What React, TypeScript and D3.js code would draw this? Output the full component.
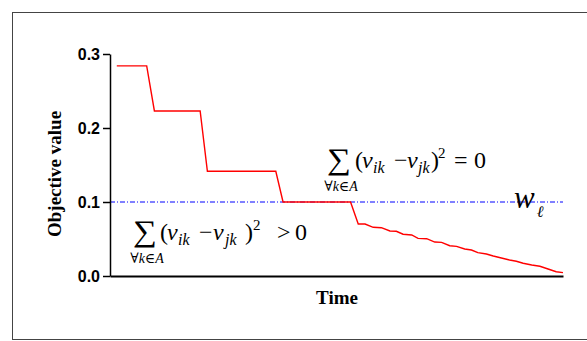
import { useEffect, useRef } from 'react';
import * as d3 from 'd3';

// time (0..100, arbitrary units) and objective value
const TIME = [
  1.5, 8.1, 9.8, 19.9, 21.5, 36.6, 38.2, 53.1, 54.8, 56.3, 58.1, 59.9, 61.8, 63.2,
  64.7, 66.6, 68.0, 69.9, 71.7, 73.2, 75.0, 76.5, 78.3, 79.8, 81.2, 83.1, 84.6,
  86.4, 88.2, 89.7, 91.2, 93.1, 94.9, 96.7, 98.5, 100,
];
const OBJECTIVE = [
  0.284, 0.284, 0.223, 0.223, 0.1415, 0.1415, 0.1, 0.1, 0.0703, 0.0703, 0.0658,
  0.0653, 0.0608, 0.0604, 0.0564, 0.0554, 0.0509, 0.0504, 0.0459, 0.0455, 0.0409,
  0.0401, 0.0365, 0.0351, 0.0315, 0.0297, 0.027, 0.0243, 0.0216, 0.0199, 0.0172,
  0.0149, 0.0131, 0.0095, 0.0058, 0.0045,
];
const THRESHOLD = 0.1;
const Y_TICKS = [0, 0.1, 0.2, 0.3];

const SERIF = '"Liberation Serif", "Times New Roman", "DejaVu Serif", serif';

// glyph offsets (px from the sum sign) for the two annotations
const LOWER_OFFSETS = [27, 34, 45, 66, 80, 92, 112, 120, 144, 162];
const UPPER_OFFSETS = [28, 35, 46, 67, 80, 91, 104, 111, 127, 147];

export default function App() {
  const svgRef = useRef<SVGSVGElement>(null);

  useEffect(() => {
    if (!svgRef.current) return;
    const svg = d3.select(svgRef.current);
    svg.selectAll('*').remove();

    const x = d3.scaleLinear().domain([0, 100]).range([110, 563]);
    const y = d3.scaleLinear().domain([0, 0.3]).range([276, 54]);

    // outer frame
    svg.append('rect')
      .attr('x', 12.5).attr('y', 12.5).attr('width', 620).attr('height', 327)
      .attr('fill', 'none').attr('stroke', '#444').attr('stroke-width', 1);

    // threshold w_l
    svg.append('line')
      .attr('x1', x(0)).attr('x2', x(100))
      .attr('y1', y(THRESHOLD)).attr('y2', y(THRESHOLD))
      .attr('stroke', '#0000ff').attr('stroke-width', 1)
      .attr('stroke-dasharray', '5,2,1,2');

    const pts = TIME.map((t, i) => [t, OBJECTIVE[i]] as [number, number]);
    svg.append('path')
      .attr('d', d3.line<[number, number]>().x(d => x(d[0])).y(d => y(d[1]))(pts))
      .attr('fill', 'none').attr('stroke', '#ff0000').attr('stroke-width', 1.4);

    svg.append('g')
      .attr('transform', `translate(${x(0)},0)`)
      .call(d3.axisLeft(y).tickValues(Y_TICKS).tickFormat(d3.format('.1f')).tickSize(7).tickPadding(3).tickSizeOuter(0))
      .call(g => g.select('.domain').attr('stroke', '#000').attr('stroke-width', 1.5))
      .call(g => g.selectAll('.tick line').attr('stroke', '#000').attr('stroke-width', 1.5))
      .call(g => g.selectAll('.tick text')
        .attr('fill', '#000').attr('font-size', 16).attr('font-weight', 'bold')
        .attr('font-family', '"Liberation Sans", Arial, sans-serif'));

    svg.append('g')
      .attr('transform', `translate(0,${y(0)})`)
      .call(d3.axisBottom(x).tickValues([]).tickSizeOuter(0))
      .call(g => g.select('.domain').attr('stroke', '#000').attr('stroke-width', 2));

    svg.append('text')
      .attr('x', 337).attr('y', 304)
      .attr('text-anchor', 'middle').attr('font-family', SERIF)
      .attr('font-size', 19).attr('font-weight', 'bold')
      .text('Time');

    svg.append('text')
      .attr('transform', 'translate(61,174) rotate(-90)')
      .attr('text-anchor', 'middle').attr('font-family', SERIF)
      .attr('font-size', 19).attr('font-weight', 'bold')
      .text('Objective value');

    // sum_{∀k∈A} (v_ik − v_jk)^2 op 0 ; base = baseline of the main line
    const formula = (x0: number, base: number, off: number[], op: string) => {
      const f = svg.append('g').attr('font-family', SERIF);
      f.append('text')
        .attr('transform', `translate(${x0},${base + 1}) scale(1.12,1)`)
        .attr('font-size', 30)
        .text('∑');
      f.append('text')
        .attr('x', x0 + 14).attr('y', base + 23)
        .attr('text-anchor', 'middle').attr('font-size', 14)
        .call(t => {
          t.append('tspan').text('∀');
          t.append('tspan').attr('font-style', 'italic').text('k');
          t.append('tspan').text('∈');
          t.append('tspan').attr('font-style', 'italic').text('A');
        });
      const parts: [string, number, number, boolean][] = [
        ['(', 24, 0, false],
        ['v', 24, 0, true],
        ['ik', 16, 5, true],
        ['−', 24, 0, false],
        ['v', 24, 0, true],
        ['jk', 16, 5, true],
        [')', 24, 0, false],
        ['2', 15, -10, false],
        [op, 24, 0, false],
        ['0', 24, 0, false],
      ];
      parts.forEach(([s, size, dy, it], i) => {
        f.append('text')
          .attr('x', x0 + off[i]).attr('y', base + dy)
          .attr('font-size', size)
          .attr('font-style', it ? 'italic' : 'normal')
          .text(s);
      });
    };
    formula(133, 240, LOWER_OFFSETS, '>');
    formula(327, 168, UPPER_OFFSETS, '=');

    const w = svg.append('text')
      .attr('x', 514).attr('y', 208)
      .attr('font-family', SERIF).attr('font-size', 31).attr('font-style', 'italic');
    w.append('tspan').text('w');
    w.append('tspan').attr('font-size', 16).attr('dy', 9).attr('dx', 2).text('ℓ');
  }, []);

  return (
    <svg
      ref={svgRef}
      width={587}
      height={341}
      style={{ position: 'absolute', left: 0, top: 0, background: '#fff' }}
    />
  );
}
